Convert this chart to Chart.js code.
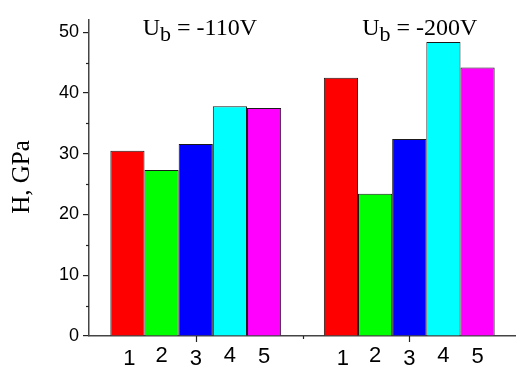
<!DOCTYPE html>
<html>
<head>
<meta charset="utf-8">
<script src="https://cdn.jsdelivr.net/npm/chart.js@4"></script>
<style>
  body { margin: 0; background: #fff; }
  #wrap { width: 516px; height: 365px; position: relative; }
</style>
</head>
<body>
<div id="wrap"><canvas id="hardness_chart"></canvas></div>
<script>
// bias voltage groups and sample numbers
var groups = ['-110V', '-200V'];
var samples = ['1', '2', '3', '4', '5'];
// hardness H, GPa for each sample (one value per group)
var h_s1 = [30.5, 42.5];
var h_s2 = [27.3, 23.4];
var h_s3 = [31.6, 32.4];
var h_s4 = [37.8, 48.4];
var h_s5 = [37.5, 44.2];
var yTicks = [0, 10, 20, 30, 40, 50];

var series = [h_s1, h_s2, h_s3, h_s4, h_s5];
var barColors = ['#ff0000', '#00ff00', '#0000ff', '#00ffff', '#ff00ff'];

var sans = "'Liberation Sans', Arial, sans-serif";
var serif = "'Liberation Serif', 'Times New Roman', serif";

var ds = [];
for (var i = 0; i < samples.length; i++) {
    ds.push({
        label: samples[i],
        data: series[i],
        backgroundColor: barColors[i],
        borderColor: '#1a1a1a',
        borderWidth: 1,
        borderSkipped: 'bottom',
        barPercentage: 1.0,
        categoryPercentage: 0.8
    });
}

// extra drawing: x ticks, minor ticks, sample numbers, U_b labels, y title
var extras = {
    id: 'extras',
    afterDraw: function (chart) {
        var c = chart.ctx;
        var xs = chart.scales.x, ys = chart.scales.y;
        var area = chart.chartArea;
        c.save();
        c.strokeStyle = '#222';
        c.lineWidth = 1.2;
        // minor y ticks
        for (var v = 5; v < 52; v += 10) {
            var py = Math.round(ys.getPixelForValue(v)) + 0.5;
            c.beginPath();
            c.moveTo(area.left - 3, py);
            c.lineTo(area.left, py);
            c.stroke();
        }
        // major x ticks at group centres
        groups.forEach(function (g, gi) {
            var px = Math.round(xs.getPixelForValue(gi)) + 0.5;
            c.beginPath();
            c.moveTo(px, area.bottom);
            c.lineTo(px, area.bottom + 6);
            c.stroke();
        });
        // minor x tick between the groups
        var mx = Math.round((xs.getPixelForValue(0) + xs.getPixelForValue(1)) / 2) + 0.5;
        c.beginPath();
        c.moveTo(mx, area.bottom);
        c.lineTo(mx, area.bottom + 3);
        c.stroke();

        // sample numbers under every bar
        c.fillStyle = '#000';
        c.font = '22px ' + sans;
        c.textAlign = 'center';
        c.textBaseline = 'alphabetic';
        var drop = [365, 362, 365, 361.5, 362.5];
        chart.data.datasets.forEach(function (d, di) {
            var meta = chart.getDatasetMeta(di);
            meta.data.forEach(function (bar) {
                c.fillText(d.label, bar.x + (di === 0 ? 2 : 0), drop[di]);
            });
        });

        // U_b = ... labels above each group
        var shift = [-53, -47];
        groups.forEach(function (g, gi) {
            var x = xs.getPixelForValue(gi) + shift[gi];
            var base = 35;
            c.textAlign = 'left';
            c.font = '24px ' + serif;
            c.fillText('U', x, base);
            x += c.measureText('U').width;
            c.font = '22px ' + serif;
            c.fillText('b', x, base + 6);
            x += c.measureText('b').width;
            c.font = '24px ' + serif;
            c.fillText(' = ' + g, x, base);
        });

        // y axis title
        c.translate(29, 177);
        c.rotate(-Math.PI / 2);
        c.textAlign = 'center';
        c.font = '25px ' + serif;
        c.fillText('H, GPa', 0, 0);
        c.restore();
    }
};

var ctx = document.getElementById('hardness_chart');
var myChart = new Chart(ctx, {
    type: 'bar',
    data: {
        labels: groups,
        datasets: ds
    },
    options: {
        responsive: true,
        maintainAspectRatio: false,
        animation: false,
        layout: { padding: { top: 20, right: 0, left: 0, bottom: 0 } },
        plugins: {
            legend: { display: false },
            tooltip: { enabled: false }
        },
        scales: {
            x: {
                offset: true,
                grid: { display: false },
                border: { display: true, color: '#444', width: 1.5 },
                ticks: { display: false },
                afterFit: function (scale) { scale.height = 29; }
            },
            y: {
                min: 0,
                max: 52,
                afterBuildTicks: function (scale) {
                    scale.ticks = yTicks.map(function (v) { return { value: v }; });
                },
                grid: {
                    drawOnChartArea: false,
                    drawTicks: true,
                    tickLength: 6,
                    color: '#222',
                    lineWidth: 1.2
                },
                border: { display: true, color: '#444', width: 1.5 },
                ticks: {
                    color: '#000',
                    padding: 4,
                    font: { family: sans, size: 18 }
                },
                afterFit: function (scale) { scale.width = 89; }
            }
        }
    },
    plugins: [extras]
});
</script>
</body>
</html>
